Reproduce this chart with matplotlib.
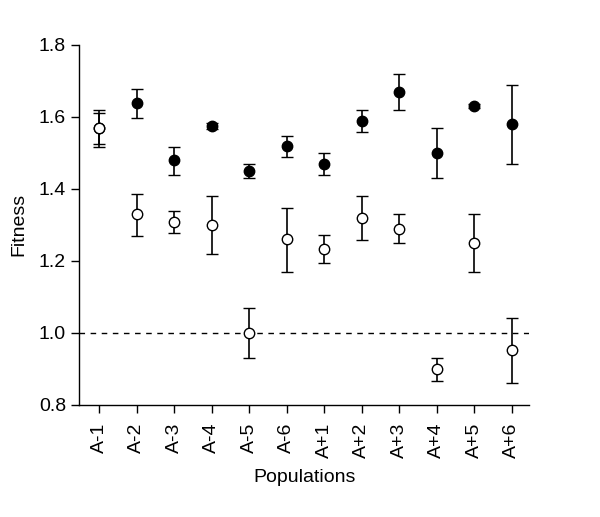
import matplotlib.pyplot as plt

plt.rcParams['font.family'] = ['Liberation Sans', 'DejaVu Sans']

populations = ['A-1', 'A-2', 'A-3', 'A-4', 'A-5', 'A-6',
               'A+1', 'A+2', 'A+3', 'A+4', 'A+5', 'A+6']

# filled circles
filled_mean = [1.57, 1.64, 1.479, 1.574, 1.449, 1.519, 1.469, 1.59, 1.67, 1.50, 1.631, 1.581]
filled_hi = [1.612, 1.678, 1.517, 1.582, 1.469, 1.547, 1.499, 1.619, 1.719, 1.569, 1.636, 1.689]
filled_lo = [1.525, 1.597, 1.438, 1.566, 1.430, 1.488, 1.438, 1.557, 1.618, 1.430, 1.625, 1.469]

# open circles
open_mean = [1.569, 1.33, 1.308, 1.30, 1.00, 1.26, 1.233, 1.319, 1.289, 0.899, 1.249, 0.952]
open_hi = [1.619, 1.387, 1.339, 1.381, 1.068, 1.347, 1.273, 1.379, 1.329, 0.929, 1.329, 1.041]
open_lo = [1.517, 1.268, 1.278, 1.219, 0.929, 1.169, 1.193, 1.258, 1.249, 0.867, 1.169, 0.86]


def plot_series(ax, x, mean, hi, lo, face):
    err = [[m - l for m, l in zip(mean, lo)], [h - m for m, h in zip(mean, hi)]]
    ax.errorbar(x, mean, yerr=err, fmt='o', color='black', mfc=face, mec='black',
                ms=7.5, mew=1.0, ecolor='black', elinewidth=1.2, capsize=4.5,
                capthick=1.2, zorder=3)


fig = plt.figure(figsize=(6, 5.17), dpi=100)
ax = fig.add_axes([0.132, 0.217, 0.75, 0.696])

x = list(range(len(populations)))
ax.axhline(1.0, color='black', lw=1.0, ls=(0, (4, 4)), zorder=1)
plot_series(ax, x, filled_mean, filled_hi, filled_lo, 'black')
plot_series(ax, x, open_mean, open_hi, open_lo, 'white')

ax.set_xlim(-0.53, 11.47)
ax.set_ylim(0.8, 1.8)
ax.set_yticks([0.8, 1.0, 1.2, 1.4, 1.6, 1.8])
ax.set_yticklabels(['0.8', '1.0', '1.2', '1.4', '1.6', '1.8'])
ax.set_xticks(x)
ax.set_xticklabels(populations, rotation=90)
ax.tick_params(labelsize=14, width=1.0, length=6, direction='out')
ax.tick_params(axis='x', pad=7)
ax.spines['top'].set_visible(False)
ax.spines['right'].set_visible(False)
ax.spines['left'].set_linewidth(1.0)
ax.spines['bottom'].set_linewidth(1.0)

ax.set_xlabel('Populations', fontsize=14, labelpad=8)
ax.set_ylabel('Fitness', fontsize=14, labelpad=8)

fig.savefig('out.png', dpi=100)
